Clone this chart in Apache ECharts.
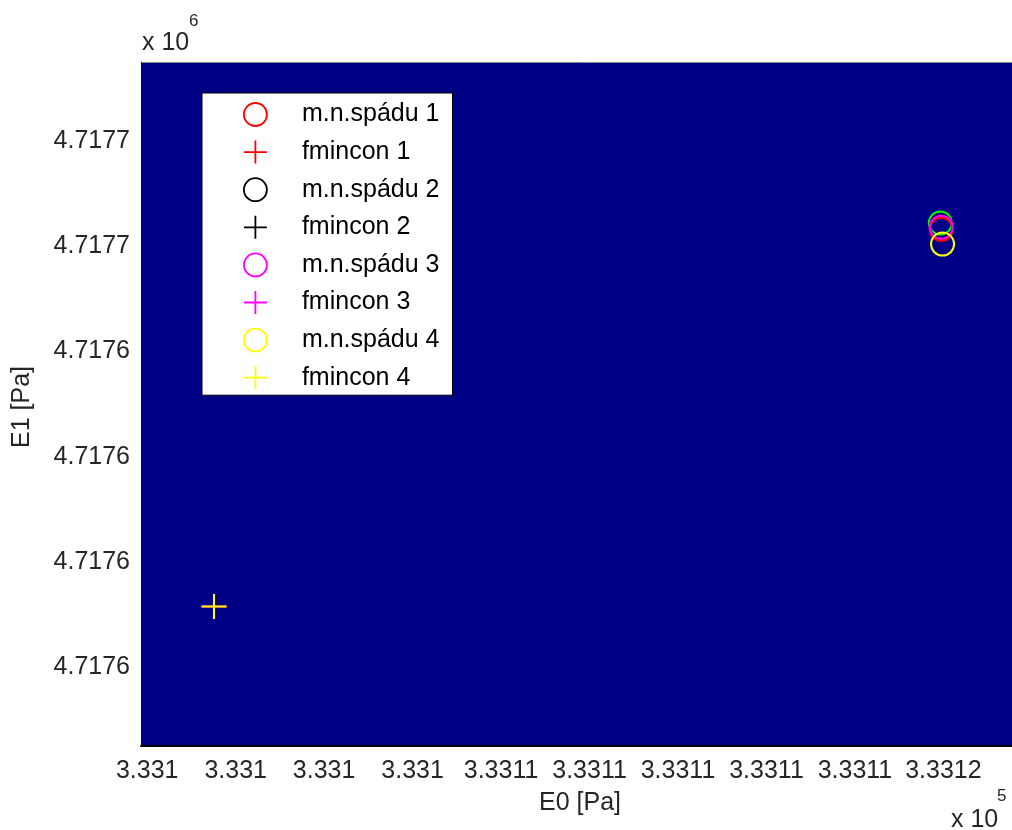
<!DOCTYPE html>
<html><head><meta charset="utf-8">
<script src="https://cdn.jsdelivr.net/npm/echarts@6/dist/echarts.min.js"></script>
<style>html,body{margin:0;padding:0;background:#fff}#c{width:1012px;height:830px}</style>
</head><body><div id="c"></div>
<script>
const xTickValues = [333098, 333100, 333102, 333104, 333106, 333108, 333110, 333112, 333114, 333116];
const xTickLabels = ['3.331','3.331','3.331','3.331','3.3311','3.3311','3.3311','3.3311','3.3311','3.3312'];
const yTickValues = [4717580, 4717600, 4717620, 4717640, 4717660, 4717680];
const yTickLabels = ['4.7176','4.7176','4.7176','4.7176','4.7177','4.7177'];

const seriesNames   = ['m.n.spádu 1','fmincon 1','m.n.spádu 2','fmincon 2','m.n.spádu 3','fmincon 3','m.n.spádu 4','fmincon 4'];
const seriesColors  = ['#ff0000','#ff0000','#000000','#000000','#ff00ff','#ff00ff','#ffff00','#ffff00'];
const seriesMarkers = ['o','+','o','+','o','+','o','+'];
const seriesX = [333115.95, 333099.51, 333115.95, 333099.51, 333115.95, 333099.51, 333115.98, 333099.51];
const seriesY = [4717663.2, 4717591.5, 4717663.7, 4717591.5, 4717663.6, 4717591.5, 4717660.4, 4717591.5];
const extraName = 'start';
const extraColor = '#00ff00';
const extraX = [333115.93];
const extraY = [4717664.4];

const PLUS = 'path://M10,0L10,20M0,10L20,10';
const FONT = 'Liberation Sans, Arial, sans-serif';
const TEXTCOL = '#262626';

function sym(m){ return m === 'o' ? 'circle' : PLUS; }
function symSize(m){ return m === 'o' ? 23 : 25; }

const series = [];
seriesNames.forEach((n, i) => {
  series.push({
    name: n, type: 'scatter',
    data: [[seriesX[i], seriesY[i]]],
    symbol: sym(seriesMarkers[i]), symbolSize: symSize(seriesMarkers[i]),
    itemStyle: { color: 'transparent', borderColor: seriesColors[i], borderWidth: 2, opacity: 1 },
    emphasis: { disabled: true }, silent: true, z: 3 + i
  });
});
series.push({
  name: extraName, type: 'scatter',
  data: [[extraX[0], extraY[0]]],
  symbol: 'circle', symbolSize: 23,
  itemStyle: { color: 'transparent', borderColor: extraColor, borderWidth: 2, opacity: 1 },
  emphasis: { disabled: true }, silent: true, z: 2
});

const legendData = seriesNames.map((n, i) => ({
  name: n,
  icon: sym(seriesMarkers[i]),
  itemStyle: { color: 'transparent', borderColor: seriesColors[i], borderWidth: 1.8 }
}));

const chart = echarts.init(document.getElementById('c'), null, { renderer: 'canvas' });
chart.setOption({
  animation: false,
  backgroundColor: '#ffffff',
  grid: { left: 141, top: 62, right: 0, bottom: 84, show: true, backgroundColor: '#000086', borderWidth: 0 },
  xAxis: [{
    type: 'value', min: 333097.86, max: 333117.55, position: 'bottom',
    axisLine: { show: true, lineStyle: { color: '#000000', width: 2 } },
    axisTick: { show: false },
    splitLine: { show: false },
    axisLabel: {
      customValues: xTickValues,
      formatter: v => { const k = xTickValues.indexOf(Math.round(v)); return k >= 0 ? xTickLabels[k] : ''; },
      color: TEXTCOL, fontSize: 25, fontFamily: FONT, margin: 13
    }
  }, {
    type: 'value', min: 333097.86, max: 333117.55, position: 'top',
    axisLine: { show: true, onZero: false, lineStyle: { color: '#8a8a8a', width: 1 } },
    axisTick: { show: false }, axisLabel: { show: false }, splitLine: { show: false }
  }],
  yAxis: {
    type: 'value', min: 4717565, max: 4717695,
    axisLine: { show: true, lineStyle: { color: '#00004a', width: 1 } },
    axisTick: { show: false },
    splitLine: { show: false },
    axisLabel: {
      customValues: yTickValues,
      formatter: v => { const k = yTickValues.indexOf(Math.round(v)); return k >= 0 ? yTickLabels[k] : ''; },
      color: TEXTCOL, fontSize: 25, fontFamily: FONT, margin: 11
    }
  },
  legend: {
    orient: 'vertical', left: 202, top: 93,
    data: legendData,
    itemWidth: 23, itemHeight: 23, itemGap: 12.6,
    padding: [9, 13, 5, 41],
    backgroundColor: '#ffffff', borderColor: '#000000', borderWidth: 1,
    selectedMode: false,
    textStyle: { color: '#000', fontSize: 25, fontFamily: FONT, padding: [0, 0, 0, 30] }
  },
  graphic: [
    { type: 'text', left: 142, top: 31, style: { text: 'x 10', fontSize: 25, fontFamily: FONT, fill: TEXTCOL } },
    { type: 'text', left: 189, top: 13, style: { text: '6', fontSize: 17, fontFamily: FONT, fill: TEXTCOL } },
    { type: 'text', left: 951, top: 808, style: { text: 'x 10', fontSize: 25, fontFamily: FONT, fill: TEXTCOL } },
    { type: 'text', left: 997, top: 788, style: { text: '5', fontSize: 17, fontFamily: FONT, fill: TEXTCOL } },
    { type: 'text', x: 580, y: 803, style: { text: 'E0 [Pa]', fontSize: 25, fontFamily: FONT, fill: TEXTCOL, align: 'center', verticalAlign: 'middle' } },
    { type: 'text', x: 22, y: 407, rotation: Math.PI / 2, style: { text: 'E1 [Pa]', fontSize: 25, fontFamily: FONT, fill: TEXTCOL, align: 'center', verticalAlign: 'middle' } }
  ],
  series: series
});
</script>
</body></html>
